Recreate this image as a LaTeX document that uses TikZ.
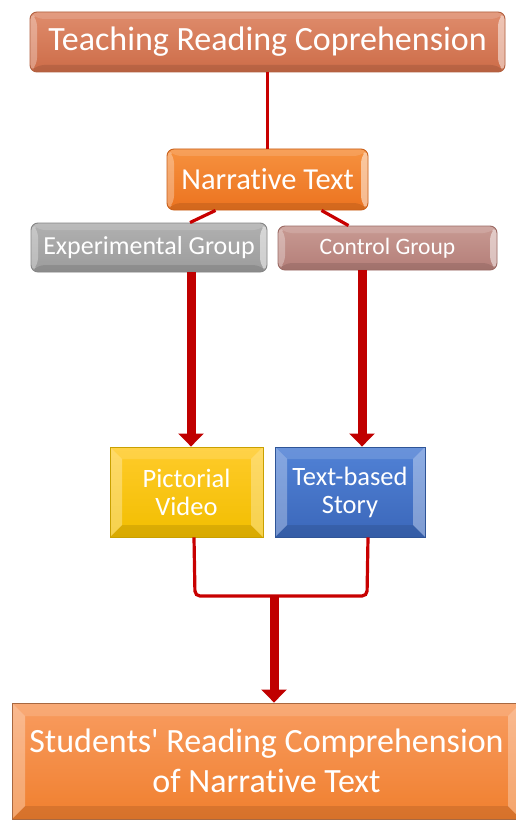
\documentclass[tikz,border=0pt]{standalone}
\usepackage{fontspec}
\setmainfont{Carlito}[Ligatures={NoCommon}]
\usetikzlibrary{arrows.meta,calc}
\definecolor{lnred}{HTML}{C80000}
\definecolor{arred}{HTML}{C00000}
\definecolor{topA}{HTML}{DF8C6C}\definecolor{topB}{HTML}{CD6C48}\definecolor{topC}{HTML}{B2603F}
\definecolor{narA}{HTML}{F6913F}\definecolor{narB}{HTML}{EC731F}\definecolor{narC}{HTML}{C9601A}
\definecolor{expA}{HTML}{B0B0B0}\definecolor{expB}{HTML}{9C9C9C}\definecolor{expC}{HTML}{858585}
\definecolor{ctlA}{HTML}{C89A93}\definecolor{ctlB}{HTML}{B47E78}\definecolor{ctlC}{HTML}{9B6A64}
\definecolor{picA}{HTML}{FFCB2A}\definecolor{picB}{HTML}{F2BE00}\definecolor{picC}{HTML}{C9A000}
\definecolor{txbA}{HTML}{5182D6}\definecolor{txbB}{HTML}{3B67BA}\definecolor{txbC}{HTML}{2F5597}
\definecolor{botA}{HTML}{F89C60}\definecolor{botB}{HTML}{F07F2E}\definecolor{botC}{HTML}{A86840}
\newcommand\bevelpic[2]{%
 \path (path picture bounding box.north west) coordinate (bNW)
       (path picture bounding box.north east) coordinate (bNE)
       (path picture bounding box.south west) coordinate (bSW)
       (path picture bounding box.south east) coordinate (bSE);
 \fill[white,opacity=.14] (bNW) -- (bNE) -- ([shift={(-#1,-#1)}]bNE) -- ([shift={(#1,-#1)}]bNW) -- cycle;
 \fill[black,opacity=.10] (bSW) -- (bSE) -- ([shift={(-#1,#1)}]bSE) -- ([shift={(#1,#1)}]bSW) -- cycle;
 \fill[white,opacity=.30] (bNW) -- ([shift={(#1,-#1)}]bNW) -- ([shift={(#1,#1)}]bSW) -- (bSW) -- cycle;
 \fill[white,opacity=#2] (bNE) -- ([shift={(-#1,-#1)}]bNE) -- ([shift={(-#1,#1)}]bSE) -- (bSE) -- cycle;
}
\tikzset{
  bevbox/.style n args={5}{top color=#1, bottom color=#2, draw=#3, line width=0.9pt,
     text=white, inner sep=0pt, align=center, path picture={\bevelpic{#4}{#5}}},
  roundbox/.style={rounded corners=7pt},
  thinline/.style={draw=lnred, line width=3.2pt},
  bigarrow/.style={draw=arred, line width=9pt, -{Triangle[width=25pt,length=13pt]}},
}
\begin{document}
\begin{tikzpicture}[x=1pt,y=-1pt]
\useasboundingbox[fill=white] (0,0) rectangle (516,821);

% nodes
\node[bevbox={topA}{topB}{topC}{7pt}{.5}, roundbox, minimum width=475pt, minimum height=60pt,
      font=\fontsize{34}{40}\selectfont] (top) at (267.5,42) {Teaching Reading Coprehension};
\node[bevbox={narA}{narB}{narC}{7pt}{.5}, roundbox, minimum width=201pt, minimum height=61pt,
      font=\fontsize{30.5}{36}\selectfont] (narr) at (267.5,179.5) {Narrative Text};
\node[bevbox={expA}{expB}{expC}{7pt}{.5}, roundbox, minimum width=236pt, minimum height=49pt,
      font=\fontsize{26}{30}\selectfont] (exp) at (149,247.5) {Experimental Group};
\node[bevbox={ctlA}{ctlB}{ctlC}{7pt}{.5}, roundbox, minimum width=219pt, minimum height=44pt,
      font=\fontsize{23.5}{28}\selectfont] (ctrl) at (387.5,248) {Control Group};
\node[bevbox={picA}{picB}{picC}{12pt}{.3}, minimum width=153pt, minimum height=90pt,
      font=\fontsize{26.5}{28}\selectfont] (pict) at (186.5,492) {Pictorial\\Video};
\node[bevbox={txbA}{txbB}{txbC}{12pt}{.35}, minimum width=150pt, minimum height=90pt,
      font=\fontsize{26.5}{28}\selectfont] (textb) at (350,492) {Text-based\\Story};
\node[bevbox={botA}{botB}{botC}{13pt}{.3}, minimum width=509pt, minimum height=116pt,
      font=\fontsize{34}{40}\selectfont] (bottom) at (266.5,761) {Students\textquotesingle\ Reading Comprehension\\of Narrative Text};

% connectors
\draw[thinline] (top.south) -- (narr.north);
\draw[thinline] ([xshift=-52pt]narr.south) -- ([xshift=41pt]exp.north);
\draw[thinline] ([xshift=54pt]narr.south) -- ([xshift=-39pt]ctrl.north);
\draw[bigarrow] ([xshift=42pt]exp.south) -- ([xshift=4.5pt]pict.north);
\draw[bigarrow] ([xshift=-25.5pt]ctrl.south) -- ([xshift=12pt]textb.north);
\coordinate (join) at (274,596);
\draw[thinline, rounded corners=5pt] ([xshift=7.5pt]pict.south) -- (195,596) -- (367,596) -- ([xshift=18pt]textb.south);
\draw[bigarrow] ([yshift=1pt]join) -- (bottom.north -| join);
\end{tikzpicture}
\end{document}
